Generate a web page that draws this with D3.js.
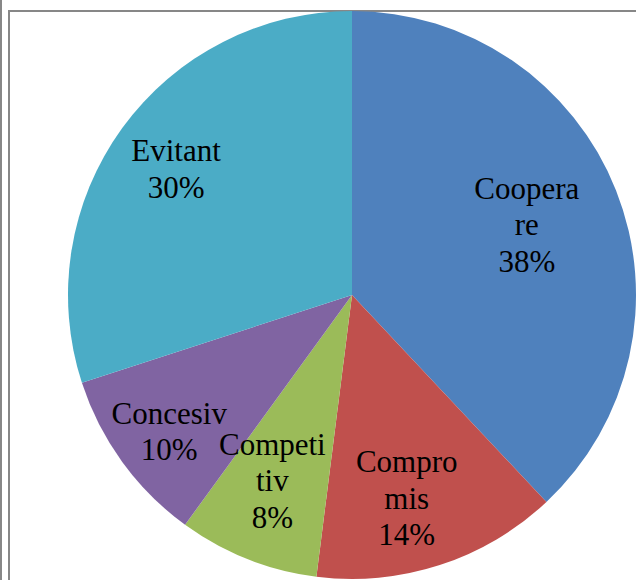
<!DOCTYPE html>
<html>
<head>
<meta charset="utf-8">
<script src="https://cdn.jsdelivr.net/npm/d3@7/dist/d3.min.js"></script>
<style>
  html, body { margin: 0; padding: 0; background: #fff; }
  svg { display: block; }
</style>
</head>
<body>
<svg id="chart" width="636" height="580"></svg>
<script>
// ---- data ----
const categories = ["Cooperare", "Compromis", "Competitiv", "Concesiv", "Evitant"];
const values = [38, 14, 8, 10, 30];
const labelLines = [["Coopera", "re"], ["Compro", "mis"], ["Competi", "tiv"], ["Concesiv"], ["Evitant"]];
const colors = ["#4F81BD", "#C0504D", "#9BBB59", "#8064A2", "#4BACC6"];

// ---- layout ----
const W = 636, H = 580;
const cx = 352, cy = 295, R = 284;
const labelRadiusFactor = [0.662, 0.745, 0.715, 0.806, 0.76];
const labelAngleNudge = [0, 3, 1.5, -1, -0.6]; // degrees
const fontSize = 31, lineH = 36.5;

const svg = d3.select("#chart");

// frame lines
const frame = svg.append("g").attr("stroke", "#878787").attr("stroke-width", 2);
frame.append("line").attr("x1", 1).attr("y1", 0).attr("x2", 1).attr("y2", H);
frame.append("line").attr("x1", 9).attr("y1", 10).attr("x2", 9).attr("y2", H);
frame.append("line").attr("x1", 8).attr("y1", 11).attr("x2", W).attr("y2", 11);

const pie = d3.pie().sort(null).value(d => d)(values);
const arc = d3.arc().innerRadius(0).outerRadius(R);

const g = svg.append("g").attr("transform", `translate(${cx},${cy})`);

g.selectAll("path.slice")
  .data(pie)
  .join("path")
  .attr("class", "slice")
  .attr("d", arc)
  .attr("fill", (d, i) => colors[i]);

const labels = g.selectAll("text.lbl")
  .data(pie)
  .join("text")
  .attr("class", "lbl")
  .attr("font-family", "'Liberation Serif', 'Times New Roman', serif")
  .attr("font-size", fontSize)
  .attr("fill", "#000")
  .attr("text-anchor", "middle")
  .each(function(d, i) {
    const mid = (d.startAngle + d.endAngle) / 2 + labelAngleNudge[i] * Math.PI / 180;
    const r = R * labelRadiusFactor[i];
    const x = r * Math.sin(mid);
    const y = -r * Math.cos(mid);
    const lines = labelLines[i].concat([values[i] + "%"]);
    const n = lines.length;
    const first = y - (n - 1) / 2 * lineH + fontSize * 0.3;
    const t = d3.select(this);
    lines.forEach((ln, k) => {
      t.append("tspan").attr("x", x).attr("y", first + k * lineH).text(ln);
    });
  });
</script>
</body>
</html>
